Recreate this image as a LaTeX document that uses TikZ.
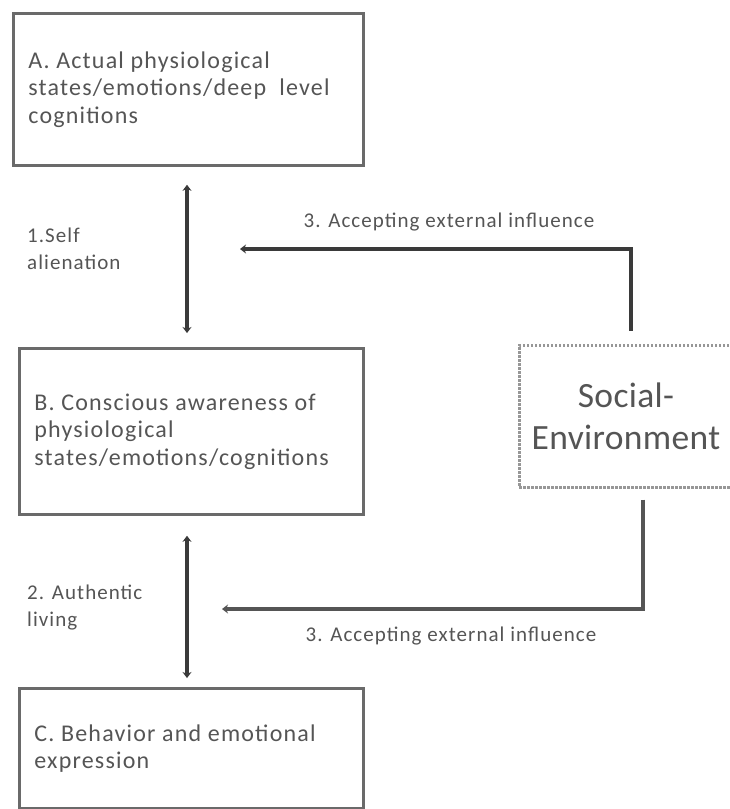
\documentclass[tikz,border=0pt]{standalone}
\usepackage{fontspec}
\setmainfont{Carlito}
\newfontfamily\boxfont{Carlito}[LetterSpace=5]
\newfontfamily\bigfont{Carlito}[LetterSpace=1]
\usetikzlibrary{arrows.meta,calc}
\definecolor{boxgray}{HTML}{6A6A6A}
\definecolor{txtgray}{HTML}{555555}
\definecolor{arrgray}{HTML}{3A3A3A}
\definecolor{arrlight}{HTML}{555555}
\begin{document}
\begin{tikzpicture}[x=1pt,y=-1pt,
  box/.style={draw=boxgray, line width=2.8pt, anchor=north west, inner xsep=14pt,
    text=txtgray, align=flush left, font=\boxfont\fontsize{24}{27.5}\selectfont},
  sbox/.style={draw=boxgray!70, line width=3pt, dash pattern=on 2.5pt off 1.5pt,
    text=txtgray, align=center, font=\bigfont\fontsize{35.5}{42}\selectfont,
    minimum width=214pt, minimum height=142pt},
  conn/.style={draw=arrgray, line width=3.6pt, -{Stealth[length=6pt,width=9pt]}},
  dconn/.style={draw=arrgray, line width=3.6pt, {Stealth[length=6pt,width=9pt]}-{Stealth[length=6pt,width=9pt]}},
  lbl/.style={text=txtgray, align=flush left, font=\boxfont\fontsize{21}{27}\selectfont, inner sep=0pt}]
\useasboundingbox (0,0) rectangle (730,809);
\fill[white] (0,0) rectangle (730,809);

\node[box, minimum width=350pt, minimum height=152pt, text width=320pt] (A) at (12,12)
  {A. Actual physiological\\states/emotions/deep\ \ level\\cognitions};
\node[box, minimum width=344pt, minimum height=166pt, text width=314pt] (B) at (18,347)
  {B. Conscious awareness of\\physiological\\states/emotions/cognitions};
\node[box, minimum width=344pt, minimum height=120pt, text width=314pt] (C) at (18,687)
  {C. Behavior and emotional\\expression};

\node[sbox] (S) at (626,416) {Social-\\Environment};

\draw[dconn] ($(A.south west)+(175,18)$) coordinate (a1) -- ($(B.north west)+(169,-14)$) coordinate (a2);
\draw[dconn] ($(B.south west)+(169,20)$) coordinate (b1) -- ($(C.north west)+(169,-9)$) coordinate (b2);

\coordinate (t1) at (240,249);
\coordinate (t2) at (222,609);
\draw[conn] ($(S.north)+(5,-13)$) |- (t1);
\draw[conn, draw=arrlight] ($(S.south)+(17,11)$) |- (t2);

\node[lbl, anchor=center] (L3a) at (449,222) {3. Accepting external influence};
\node[lbl, anchor=center] (L3b) at (451,636) {3. Accepting external influence};
\node[lbl, anchor=north west] (L1) at (27,228) {1.Self\\alienation};
\node[lbl, anchor=north west] (L2) at (27,585) {2. Authentic\\living};
\end{tikzpicture}
\end{document}
